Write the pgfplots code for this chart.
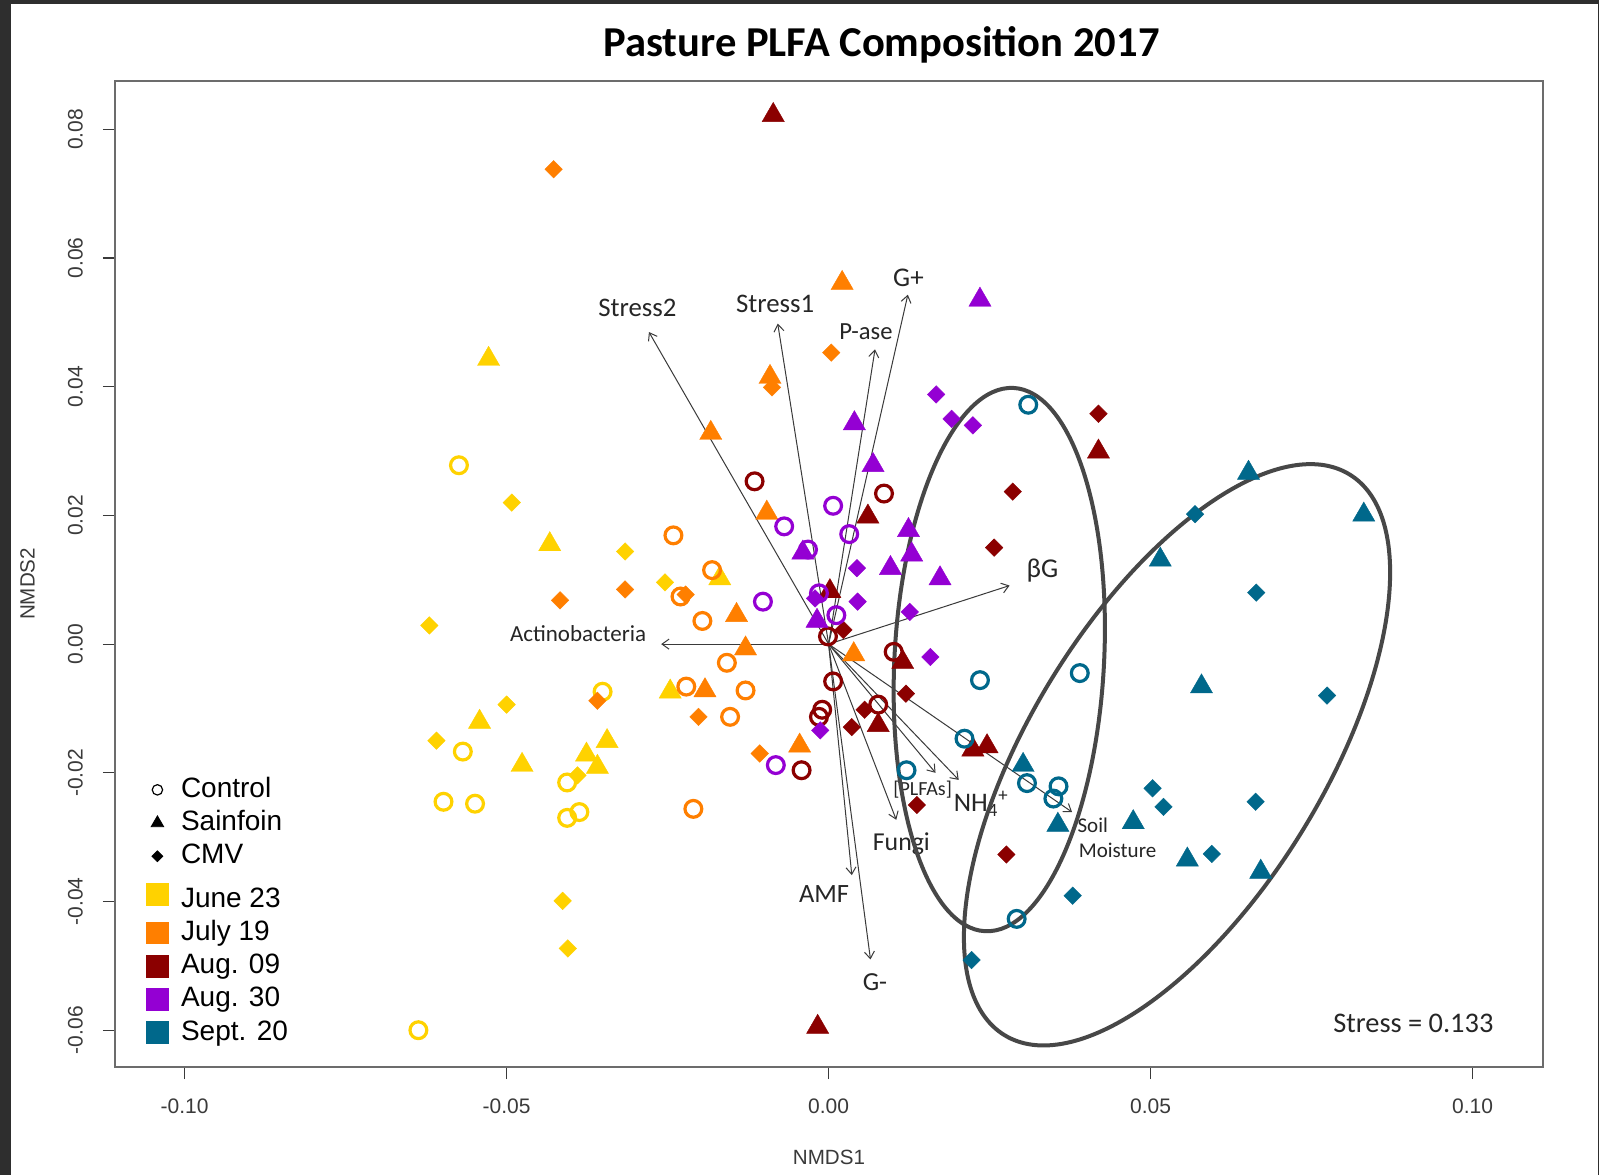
\documentclass[border=0pt]{standalone}
\usepackage{pgfplots}
\pgfplotsset{compat=1.18}
\usepackage{fontspec}
\setmainfont{Liberation Sans}
\newfontfamily\calfont{Carlito}
\usetikzlibrary{arrows.meta}

\definecolor{jun}{HTML}{FFD200}
\definecolor{jul}{HTML}{FF7F00}
\definecolor{augA}{HTML}{8B0000}
\definecolor{augB}{HTML}{9400D3}
\definecolor{sep}{HTML}{00688B}
\definecolor{framecol}{HTML}{2E2E2E}
\definecolor{ink}{HTML}{3A3A3A}
\definecolor{ringcol}{HTML}{474747}

\pgfplotsset{
  ctrl/.style={only marks, color=#1, mark=o, mark size=4.2pt,
    mark options={line width=1.6pt}, forget plot},
  sain/.style={only marks, color=#1, mark=triangle*, mark size=6.4pt,
    mark options={line width=0.2pt}, forget plot},
  cmv/.style={only marks, color=#1, mark=square*, mark size=3.1pt,
    mark options={rotate=45, line width=0.2pt}, forget plot},
  vec/.style={ink, line width=0.5pt, -{Straight Barb[length=3.5pt, width=5pt]}, forget plot},
  datekey/.style={legend image code/.code={\fill[#1] (0.3cm-5.6pt,-5.4pt) rectangle (0.3cm+5.6pt,5.4pt);}},
}

\begin{document}
\begin{tikzpicture}
\path[use as bounding box] (-57.5pt,-54pt) rectangle (742pt,533.5pt);
\fill[framecol] (-57.5pt,-54pt) rectangle (742pt,533.5pt);
\fill[white] (-52pt,-54pt) rectangle (741.25pt,531.5pt);
\begin{axis}[
  at={(0pt,0pt)}, anchor=south west,
  scale only axis, width=714pt, height=493pt,
  xmin=-0.11081, xmax=0.11093, ymin=-0.06572, ymax=0.08751,
  scaled ticks=false,
  axis line style={draw=gray!85!black, line width=0.9pt},
  xtick={-0.1,-0.05,0,0.05,0.1},
  xticklabels={-0.10,-0.05,0.00,0.05,0.10},
  ytick={-0.06,-0.04,-0.02,0,0.02,0.04,0.06,0.08},
  yticklabels={-0.06,-0.04,-0.02,0.00,0.02,0.04,0.06,0.08},
  xtick pos=left, ytick pos=left,
  tick align=outside, major tick length=6pt,
  tick style={draw=ink, line width=0.6pt},
  ticklabel style={font=\fontsize{10.5}{12}\selectfont, text=ink},
  yticklabel style={rotate=90, anchor=south},
  xticklabel style={anchor=north},
  xticklabel shift=6.5pt, yticklabel shift=6.5pt,
  xlabel={NMDS1}, ylabel={NMDS2},
  xlabel style={at={(axis description cs:0.5,-0.0915)}, anchor=center,
    font=\fontsize{10.3}{12}\selectfont, text=ink},
  ylabel style={at={(axis description cs:-0.0613,0.49)}, anchor=center,
    font=\fontsize{10.3}{12}\selectfont, text=ink},
  title={Pasture PLFA Composition 2017},
  title style={at={(axis description cs:0.5368,1.0249)}, anchor=center,
    font=\calfont\bfseries\fontsize{21.3}{25}\selectfont},
  legend cell align=left,
  legend style={at={(axis description cs:0.0171,0.3024)}, anchor=north west,
    draw=none, fill=none, font=\fontsize{14}{16}\selectfont, row sep=0pt,
    nodes={inner sep=1pt, text height=11pt, text depth=3.6pt},
    /tikz/every odd column/.append style={column sep=5pt}},
]

% ---- June 23 ----
\addplot[ctrl=jun] coordinates {(-0.0574,0.0278) (-0.0351,-0.0074) (-0.0568,-0.0167)
  (-0.0598,-0.0245) (-0.0549,-0.0248) (-0.0406,-0.0215) (-0.0406,-0.0270)
  (-0.0387,-0.0261) (-0.0637,-0.0600)};
\addplot[sain=jun] coordinates {(-0.0528,0.0443) (-0.0433,0.0155) (-0.0169,0.0102)
  (-0.0246,-0.0074) (-0.0542,-0.0121) (-0.0476,-0.0188) (-0.0376,-0.0172)
  (-0.0344,-0.0151) (-0.0359,-0.0191)};
\addplot[cmv=jun] coordinates {(-0.0492,0.0220) (-0.0316,0.0144) (-0.0254,0.0096)
  (-0.0620,0.0029) (-0.0500,-0.0094) (-0.0609,-0.0150) (-0.0390,-0.0204)
  (-0.0413,-0.0399) (-0.0405,-0.0473)};

% ---- July 19 ----
\addplot[ctrl=jul] coordinates {(-0.0241,0.0169) (-0.0181,0.0115) (-0.0230,0.0074)
  (-0.0196,0.0036) (-0.0158,-0.0029) (-0.0221,-0.0066) (-0.0129,-0.0072)
  (-0.0153,-0.0113) (-0.0210,-0.0256)};
\addplot[sain=jul] coordinates {(0.0021,0.0561) (-0.0091,0.0415) (-0.0183,0.0328)
  (-0.0096,0.0204) (-0.0143,0.0045) (-0.0129,-0.0007) (-0.0192,-0.0072)
  (0.0039,-0.0016) (-0.0045,-0.0158)};
\addplot[cmv=jul] coordinates {(-0.0427,0.0738) (0.0004,0.0453) (-0.0088,0.0399)
  (-0.0417,0.0068) (-0.0316,0.0085) (-0.0222,0.0077) (-0.0359,-0.0088)
  (-0.0202,-0.0113) (-0.0107,-0.0170)};

% ---- Aug. 09 ----
\addplot[ctrl=augA] coordinates {(-0.0115,0.0253) (0.0086,0.0234) (0.0101,-0.0012)
  (-0.0001,0.0012) (0.0007,-0.0058) (-0.0010,-0.0102) (-0.0015,-0.0113)
  (0.0077,-0.0094) (-0.0042,-0.0196)};
\addplot[sain=augA] coordinates {(-0.0086,0.0822) (0.0419,0.0299) (0.0061,0.0198)
  (0.0002,0.0082) (0.0115,-0.0028) (0.0077,-0.0126) (0.0224,-0.0164)
  (0.0246,-0.0159) (-0.0017,-0.0595)};
\addplot[cmv=augA] coordinates {(0.0419,0.0358) (0.0286,0.0237) (0.0257,0.0150)
  (0.0023,0.0022) (0.0120,-0.0077) (0.0056,-0.0102) (0.0036,-0.0129)
  (0.0137,-0.0250) (0.0276,-0.0327)};

% ---- Aug. 30 ----
\addplot[ctrl=augB] coordinates {(0.0007,0.0215) (-0.0069,0.0183) (0.0032,0.0171)
  (-0.0032,0.0147) (-0.0015,0.0079) (0.0012,0.0045) (-0.0102,0.0066)
  (-0.0082,-0.0188)};
\addplot[sain=augB] coordinates {(0.0235,0.0535) (0.0040,0.0343) (0.0069,0.0278)
  (0.0124,0.0177) (0.0129,0.0139) (0.0096,0.0118) (0.0173,0.0102)
  (-0.0040,0.0142) (-0.0018,0.0036)};
\addplot[cmv=augB] coordinates {(0.0167,0.0388) (0.0191,0.0350) (0.0224,0.0340)
  (0.0044,0.0118) (0.0045,0.0066) (0.0126,0.0050) (0.0158,-0.0020)
  (-0.0013,-0.0134) (-0.0021,0.0071)};

% ---- Sept. 20 ----
\addplot[ctrl=sep] coordinates {(0.0310,0.0372) (0.0235,-0.0056) (0.0390,-0.0045)
  (0.0211,-0.0147) (0.0121,-0.0196) (0.0308,-0.0216) (0.0357,-0.0221)
  (0.0349,-0.0240) (0.0292,-0.0427)};
\addplot[sain=sep] coordinates {(0.0652,0.0266) (0.0831,0.0201) (0.0515,0.0131)
  (0.0579,-0.0066) (0.0302,-0.0188) (0.0356,-0.0281) (0.0473,-0.0277)
  (0.0557,-0.0335) (0.0671,-0.0354)};
\addplot[cmv=sep] coordinates {(0.0569,0.0202) (0.0664,0.0080) (0.0774,-0.0080)
  (0.0503,-0.0224) (0.0520,-0.0253) (0.0663,-0.0245) (0.0595,-0.0326)
  (0.0379,-0.0391) (0.0222,-0.0491)};

% ---- fitted vectors ----
\addplot[vec] coordinates {(0,0) (-0.0279,0.0485)};
\addplot[vec] coordinates {(0,0) (-0.0079,0.0498)};
\addplot[vec] coordinates {(0,0) (0.0072,0.0458)};
\addplot[vec] coordinates {(0,0) (0.0123,0.0543)};
\addplot[vec] coordinates {(0,0) (0.0281,0.0091)};
\addplot[vec] coordinates {(0,0) (-0.0260,0.0000)};
\addplot[vec] coordinates {(0,0) (0.0166,-0.0200)};
\addplot[vec] coordinates {(0,0) (0.0202,-0.0211)};
\addplot[vec] coordinates {(0,0) (0.0378,-0.0261)};
\addplot[vec] coordinates {(0,0) (0.0105,-0.0273)};
\addplot[vec] coordinates {(0,0) (0.0036,-0.0359)};
\addplot[vec] coordinates {(0,0) (0.0065,-0.0490)};

% ---- vector labels ----
\begin{scope}[every node/.style={text=black!85, inner sep=0pt}]
\node[font=\calfont\fontsize{13.4}{15}\selectfont] at (axis cs:-0.0297,0.0523) {Stress2};
\node[font=\calfont\fontsize{13.4}{15}\selectfont] at (axis cs:-0.0083,0.0529) {Stress1};
\node[font=\calfont\fontsize{12.3}{14}\selectfont] at (axis cs:0.0058,0.0485) {P-ase};
\node[font=\calfont\fontsize{13.5}{15}\selectfont] at (axis cs:0.0124,0.0570) {G+};
\node[font=\calfont\fontsize{13.6}{15}\selectfont] at (axis cs:0.0332,0.0114) {βG};
\node[font=\calfont\fontsize{11.5}{13}\selectfont] at (axis cs:-0.0389,0.0017) {Actinobacteria};
\node[font=\calfont\fontsize{10}{12}\selectfont] at (axis cs:0.0146,-0.0226) {[PLFAs]};
\node[font=\calfont\fontsize{13.4}{15}\selectfont] at (axis cs:0.0237,-0.0248) {NH\textsubscript{4}\textsuperscript{+}};
\node[font=\calfont\fontsize{10.5}{12}\selectfont, anchor=west] at (axis cs:0.0386,-0.0281) {Soil};
\node[font=\calfont\fontsize{10.5}{12}\selectfont, anchor=west] at (axis cs:0.0388,-0.0321) {Moisture};
\node[font=\calfont\fontsize{12.9}{15}\selectfont] at (axis cs:0.0113,-0.0310) {Fungi};
\node[font=\calfont\fontsize{13.2}{15}\selectfont] at (axis cs:-0.0007,-0.0388) {AMF};
\node[font=\calfont\fontsize{13}{15}\selectfont] at (axis cs:0.0072,-0.0525) {G-};
\node[font=\calfont\fontsize{14.2}{16}\selectfont] at (axis cs:0.0908,-0.0589) {Stress = 0.133};
\end{scope}

% ---- grouping ellipses ----
\draw[ringcol, line width=2pt, rotate around={87:(axis cs:0.0265,-0.0024)}]
  (axis cs:0.0265,-0.0024) ellipse [x radius=136pt, y radius=52.4pt];
\draw[ringcol, line width=2pt, rotate around={58.35:(axis cs:0.0541,-0.0172)}]
  (axis cs:0.0541,-0.0172) ellipse [x radius=164.6pt, y radius=73.3pt];

% ---- legend ----
\addlegendimage{only marks, black, mark=o, mark size=2.6pt, mark options={line width=0.6pt}}
\addlegendentry{Control}
\addlegendimage{only marks, black, mark=triangle*, mark size=3.6pt}
\addlegendentry{Sainfoin}
\addlegendimage{only marks, black, mark=square*, mark size=1.9pt, mark options={rotate=45}}
\addlegendentry{CMV}
\addlegendimage{datekey=jun}
\addlegendentry[text height=16.2pt]{June 23}
\addlegendimage{datekey=jul}
\addlegendentry{July 19}
\addlegendimage{datekey=augA}
\addlegendentry{Aug. 09}
\addlegendimage{datekey=augB}
\addlegendentry{Aug. 30}
\addlegendimage{datekey=sep}
\addlegendentry{Sept. 20}
\end{axis}
\end{tikzpicture}
\end{document}
